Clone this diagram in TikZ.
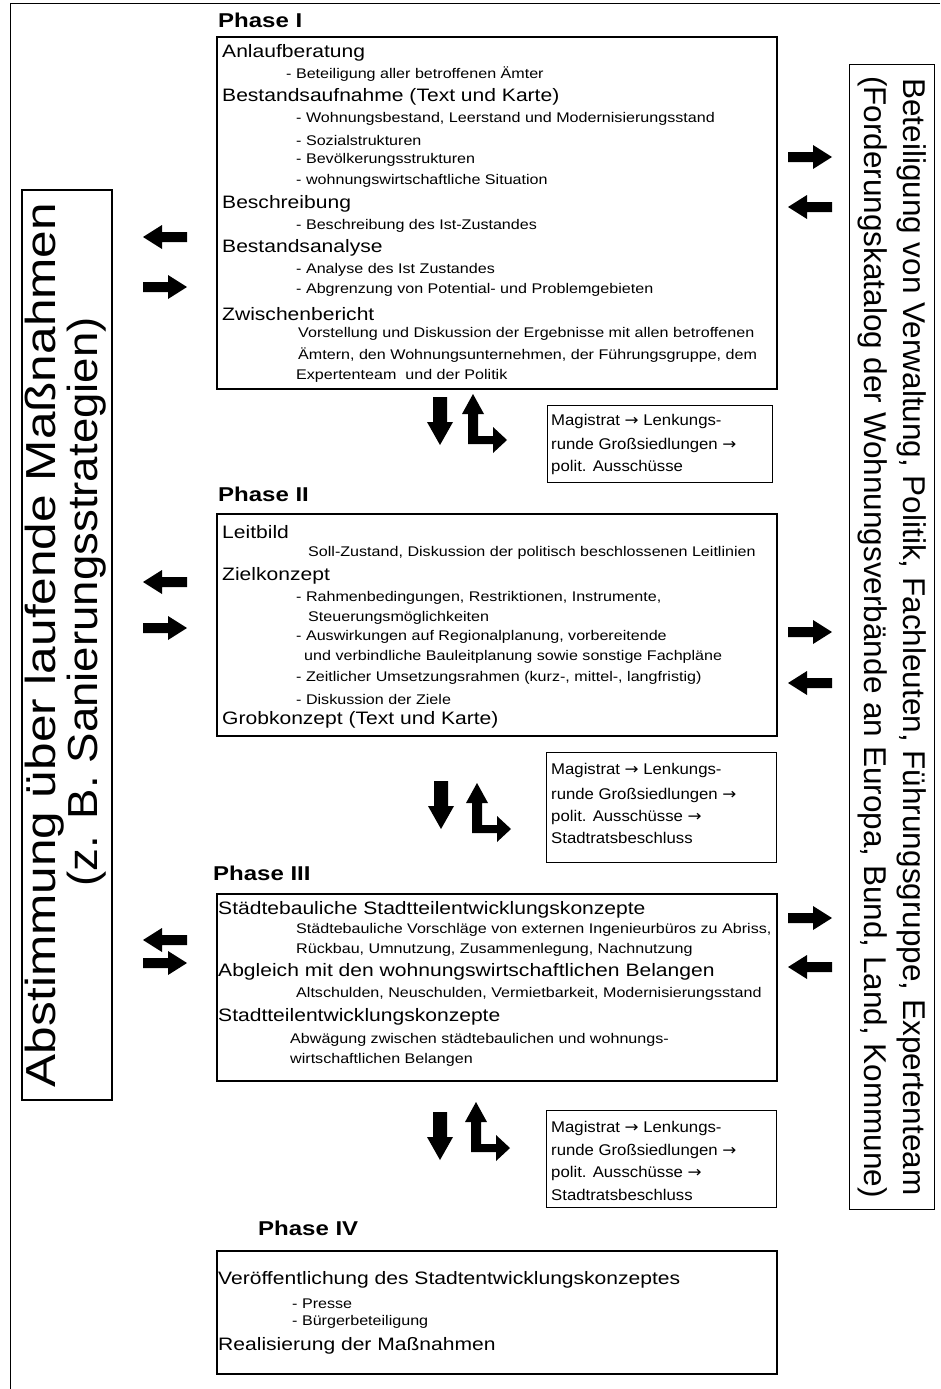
\documentclass[tikz,border=0pt]{standalone}
\usepackage{fontspec}
\setmainfont{Liberation Sans}
\newfontfamily\arrowfont{DejaVu Sans}
\newcommand\toarrow{{\arrowfont →}}
\usepackage{graphicx}
\begin{document}
\begin{tikzpicture}[x=1pt,y=-1pt,
  phasebox/.style={draw, line width=1.7pt, anchor=north west, inner sep=0pt},
  sidebox/.style={draw, line width=1.3pt, inner sep=0pt},
  magbox/.style={draw, line width=1.3pt, anchor=north west, inner sep=0pt},
  hd/.style={anchor=west, inner sep=0pt, font=\fontsize{18}{20}\selectfont},
  sb/.style={anchor=west, inner sep=0pt, font=\fontsize{14}{16}\selectfont},
  mg/.style={anchor=west, inner sep=0pt, font=\fontsize{15.5}{17}\selectfont},
  ph/.style={anchor=west, inner sep=0pt, font=\fontsize{20}{22}\selectfont\bfseries},
  rarr/.pic={\fill (-22,-5) -- (3,-5) -- (3,-12) -- (22,0) -- (3,12) -- (3,5) -- (-22,5) -- cycle;},
  darr/.pic={\fill (-7,-24) -- (7,-24) -- (7,1) -- (13,1) -- (0,24) -- (-13,1) -- (-7,1) -- cycle;},
  larr/.pic={\fill (-5,4) -- (-5,-26) -- (-11,-26) -- (0,-46) -- (11,-26) -- (5,-26)
              -- (5,-4) -- (20,-4) -- (20,-13) -- (34,0) -- (20,13) -- (20,4) -- cycle;},
]
\useasboundingbox (0,0) rectangle (940,1389);
\fill[white] (0,0) rectangle (940,1389);

% page frame
\draw[line width=1pt] (940,4) -- (10,4) -- (10,1389);

% phase boxes
\node[phasebox, minimum width=560pt, minimum height=352pt] (p1) at (216,36) {};
\node[phasebox, minimum width=560pt, minimum height=222pt] (p2) at (216,513) {};
\node[phasebox, minimum width=560pt, minimum height=187pt] (p3) at (216,893) {};
\node[phasebox, minimum width=560pt, minimum height=123pt] (p4) at (216,1250) {};

% phase titles
\node[ph] (t1) at (218,20)   {\scalebox{1.2}[1]{Phase I}};
\node[ph] (t2) at (218,494)  {\scalebox{1.2}[1]{Phase II}};
\node[ph] (t3) at (213,873)  {\scalebox{1.2}[1]{Phase III}};
\node[ph] (t4) at (258,1228) {\scalebox{1.2}[1]{Phase IV}};

% headings inside the phase boxes
\foreach \x/\y/\t [count=\i] in {
  222/53/Anlaufberatung,
  222/97/{Bestandsaufnahme (Text und Karte)},
  222/204/Beschreibung,
  222/248/Bestandsanalyse,
  222/314/Zwischenbericht,
  222/532/Leitbild,
  222/576/Zielkonzept,
  222/720/{Grobkonzept (Text und Karte)},
  218/910/{Städtebauliche Stadtteilentwicklungskonzepte},
  218/972/{Abgleich mit den wohnungswirtschaftlichen Belangen},
  218/1017/{Stadtteilentwicklungskonzepte},
  218/1280/{Veröffentlichung des Stadtentwicklungskonzeptes},
  218/1346/{Realisierung der Maßnahmen}}
  \node[hd] (hd\i) at (\x,\y) {\scalebox{1.17}[1]{\t}};

% detail lines
\foreach \x/\y/\t [count=\i] in {
  286/74/{- Beteiligung aller betroffenen Ämter},
  296/119/{- Wohnungsbestand, Leerstand und Modernisierungsstand},
  296/140/{- Sozialstrukturen},
  296/160/{- Bevölkerungsstrukturen},
  296/181/{- wohnungswirtschaftliche Situation},
  296/226/{- Beschreibung des Ist-Zustandes},
  296/270/{- Analyse des Ist Zustandes},
  296/290/{- Abgrenzung von Potential- und Problemgebieten},
  298/334/{Vorstellung und Diskussion der Ergebnisse mit allen betroffenen},
  298/355/{Ämtern, den Wohnungsunternehmen, der Führungsgruppe, dem},
  296/376/{Expertenteam\ \ und der Politik},
  308/553/{Soll-Zustand, Diskussion der politisch beschlossenen Leitlinien},
  296/598/{- Rahmenbedingungen, Restriktionen, Instrumente,},
  308/618/{Steuerungsmöglichkeiten},
  296/637/{- Auswirkungen auf Regionalplanung, vorbereitende},
  304/657/{und verbindliche Bauleitplanung sowie sonstige Fachpläne},
  296/678/{- Zeitlicher Umsetzungsrahmen (kurz-, mittel-, langfristig)},
  296/699/{- Diskussion der Ziele},
  296/930/{Städtebauliche Vorschläge von externen Ingenieurbüros zu Abriss,},
  296/950/{Rückbau, Umnutzung, Zusammenlegung, Nachnutzung},
  296/994/{Altschulden, Neuschulden, Vermietbarkeit, Modernisierungsstand},
  290/1040/{Abwägung zwischen städtebaulichen und wohnungs-},
  290/1060/{wirtschaftlichen Belangen},
  292/1304/{- Presse},
  292/1322/{- Bürgerbeteiligung}}
  \node[sb] (sb\i) at (\x,\y) {\scalebox{1.15}[1]{\t}};

% decision boxes between the phases
\node[magbox, minimum width=225pt, minimum height=77pt]  (m1) at (547,405) {};
\node[magbox, minimum width=230pt, minimum height=110pt] (m2) at (546,752) {};
\node[magbox, minimum width=230pt, minimum height=97pt]  (m3) at (546,1110) {};

\node[mg] (m1a) at (551,421) {\scalebox{1.08}[1]{Magistrat \toarrow\ Lenkungs-}};
\node[mg] (m1b) at (551,445) {\scalebox{1.08}[1]{runde Großsiedlungen \toarrow}};
\node[mg] (m1c) at (551,467) {\scalebox{1.08}[1]{polit. Ausschüsse}};

\node[mg] (m2a) at (551,770) {\scalebox{1.08}[1]{Magistrat \toarrow\ Lenkungs-}};
\node[mg] (m2b) at (551,795) {\scalebox{1.08}[1]{runde Großsiedlungen \toarrow}};
\node[mg] (m2c) at (551,817) {\scalebox{1.08}[1]{polit. Ausschüsse \toarrow}};
\node[mg] (m2d) at (551,838) {\scalebox{1.08}[1]{Stadtratsbeschluss}};

\node[mg] (m3a) at (551,1128) {\scalebox{1.08}[1]{Magistrat \toarrow\ Lenkungs-}};
\node[mg] (m3b) at (551,1151) {\scalebox{1.08}[1]{runde Großsiedlungen \toarrow}};
\node[mg] (m3c) at (551,1173) {\scalebox{1.08}[1]{polit. Ausschüsse \toarrow}};
\node[mg] (m3d) at (551,1195) {\scalebox{1.08}[1]{Stadtratsbeschluss}};

% side boxes
\node[sidebox, rotate=90, minimum width=910pt, minimum height=90pt] (left) at (67,645)
  {\fontsize{42}{39}\selectfont\scalebox{1.18}[1]{\begin{tabular}{@{}l@{}}Abstimmung über laufende Maßnahmen\\\hspace*{170pt}\scalebox{0.92}[1]{(z. B. Sanierungsstrategien)}\end{tabular}}};
\node[sidebox, rotate=-90, minimum width=1145pt, minimum height=85pt] (right) at (892,637)
  {\fontsize{31.5}{39}\selectfont\begin{tabular}{@{}c@{}}Beteiligung von Verwaltung, Politik, Fachleuten, Führungsgruppe, Expertenteam\\(Forderungskatalog der Wohnungsverbände an Europa, Bund, Land, Kommune)\end{tabular}};

% exchange arrows, left column
\pic[rotate=180] at (165,237) {rarr};
\pic at (165,287) {rarr};
\pic[rotate=180] at (165,582) {rarr};
\pic at (165,628) {rarr};
\pic[rotate=180] at (165,940) {rarr};
\pic at (165,963) {rarr};

% exchange arrows, right column
\pic at (810,157) {rarr};
\pic[rotate=180] at (810,207) {rarr};
\pic at (810,632) {rarr};
\pic[rotate=180] at (810,683) {rarr};
\pic at (810,918) {rarr};
\pic[rotate=180] at (810,967) {rarr};

% flow arrows below the phases
\pic at (440,421) {darr};
\pic at (473,440) {larr};
\pic at (441,805) {darr};
\pic at (477,829) {larr};
\pic at (440,1136) {darr};
\pic at (476,1148) {larr};
\end{tikzpicture}
\end{document}
